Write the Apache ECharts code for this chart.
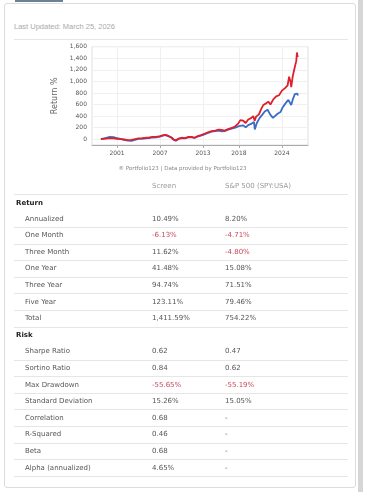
<!DOCTYPE html>
<html><head><meta charset="utf-8">
<script src="https://cdn.jsdelivr.net/npm/echarts@6/dist/echarts.min.js"></script>
<style>
html,body{margin:0;padding:0;background:#fff;width:365px;height:492px;overflow:hidden;font-family:"DejaVu Sans",Verdana,sans-serif;}
#wrap{position:relative;width:365px;height:492px;}
#chart{position:absolute;left:0;top:0;width:365px;height:180px;}
.t{position:absolute;white-space:nowrap;font-size:7px;line-height:16px;height:16px;color:#555;}
.hl{position:absolute;left:14px;width:334px;height:1px;background:#e6e6e6;}
</style></head>
<body><div id="wrap">
<div style="position:absolute;left:15px;top:0;width:48px;height:2px;background:#6d8193;"></div>
<div style="position:absolute;left:4px;top:3px;width:350px;height:483px;border:1px solid #dcdcdc;border-radius:3px;"></div>
<div style="position:absolute;left:358px;top:0;width:5px;height:492px;background:#d6d6d6;"></div>
<div style="position:absolute;left:14px;top:22px;font-family:'Liberation Sans',Arial,sans-serif;font-size:7.5px;color:#aaa;">Last Updated: March 25, 2026</div>
<div class="hl" style="top:39px;"></div>
<div id="chart"></div>
<div id="table"></div>
</div>
<script>
// ---- chart data ----
const screenYears = [1998.75,1999.0,1999.5,2000.0,2000.5,2001.0,2001.5,2002.0,2002.5,2003.0,2003.5,2004.0,2004.5,2005.0,2005.5,2006.0,2006.5,2007.0,2007.5,2007.8,2008.2,2008.6,2008.9,2009.2,2009.6,2010.0,2010.5,2011.0,2011.5,2011.8,2012.2,2012.7,2013.2,2013.7,2014.2,2014.7,2015.2,2015.6,2016.0,2016.5,2017.0,2017.5,2017.9,2018.2,2018.6,2018.95,2019.3,2019.7,2020.0,2020.2,2020.4,2020.8,2021.1,2021.4,2021.8,2022.1,2022.4,2022.8,2023.2,2023.6,2024.0,2024.4,2024.8,2025.0,2025.2,2025.3,2025.5,2025.8,2026.0,2026.1,2026.2,2026.23];
const screenValues = [0,5,10,20,15,5,0,-5,-15,-10,0,15,18,25,30,40,42,55,70,75,55,30,-5,-20,10,25,20,40,38,25,50,70,95,120,140,150,165,160,150,175,195,225,270,330,320,280,340,365,400,320,390,430,520,590,620,650,600,690,740,760,840,880,930,1080,1000,900,1080,1250,1350,1500,1420,1411.59];
const spyYears = [1998.75,1999.0,1999.5,2000.0,2000.5,2001.0,2001.5,2002.0,2002.5,2003.0,2003.5,2004.0,2004.5,2005.0,2005.5,2006.0,2006.5,2007.0,2007.5,2007.8,2008.2,2008.6,2008.9,2009.2,2009.6,2010.0,2010.5,2011.0,2011.5,2011.8,2012.2,2012.7,2013.2,2013.7,2014.2,2014.7,2015.2,2015.6,2016.0,2016.5,2017.0,2017.5,2018.0,2018.2,2018.6,2018.95,2019.3,2019.7,2020.1,2020.22,2020.5,2020.9,2021.3,2021.6,2022.0,2022.4,2022.75,2023.0,2023.4,2023.8,2024.1,2024.5,2024.9,2025.1,2025.3,2025.5,2025.8,2026.0,2026.15,2026.23];
const spyValues = [0,10,25,40,35,20,5,-10,-25,-30,-10,5,8,15,20,30,32,45,65,72,50,25,-10,-25,5,20,15,35,33,20,45,60,85,110,130,140,150,135,140,165,185,200,225,215,240,205,245,265,300,170,280,370,430,480,510,420,370,400,440,470,550,620,680,700,590,680,780,810,790,754.22];
const xTickYears = [2001,2007,2013,2018,2024];
const yTicks = [0,200,400,600,800,1000,1200,1400,1600];

// ---- table data ----
const colHeaders = ['Screen','S&P 500 (SPY:USA)'];
const returnLabels = ['Annualized','One Month','Three Month','One Year','Three Year','Five Year','Total'];
const returnScreen = ['10.49%','-6.13%','11.62%','41.48%','94.74%','123.11%','1,411.59%'];
const returnSpy = ['8.20%','-4.71%','-4.80%','15.08%','71.51%','79.46%','754.22%'];
const riskLabels = ['Sharpe Ratio','Sortino Ratio','Max Drawdown','Standard Deviation','Correlation','R-Squared','Beta','Alpha (annualized)'];
const riskScreen = ['0.62','0.84','-55.65%','15.26%','0.68','0.46','0.68','4.65%'];
const riskSpy = ['0.47','0.62','-55.19%','15.05%','-','-','-','-'];

const chart = echarts.init(document.getElementById('chart'), null, {renderer:'canvas'});
const F = '"DejaVu Sans", Verdana, sans-serif';
chart.setOption({
  animation:false,
  grid:{left:92, top:46.7, width:216, height:98.3, show:true, borderColor:'#dedede', borderWidth:1},
  title:{text:'® Portfolio123 | Data provided by Portfolio123', left:'center', top:161,
    textStyle:{fontFamily:F, fontSize:5.5, fontWeight:'normal', color:'#888'}},
  xAxis:{type:'value', min:1997.51, max:2027.64,
    axisLine:{show:true, onZero:false, lineStyle:{color:'#aaa', width:1}},
    axisTick:{show:true, length:3, lineStyle:{color:'#aaa'}, customValues:xTickYears},
    axisLabel:{customValues:xTickYears, formatter:v=>String(Math.round(v)), fontFamily:F, fontSize:6, color:'#555', margin:5},
    splitLine:{show:true, lineStyle:{color:'#f0f0f0', width:1}}},
  yAxis:{type:'value', min:-100, max:1600,
    name:'Return %', nameLocation:'middle', nameRotate:90, nameGap:32,
    nameTextStyle:{fontFamily:F, fontSize:8, color:'#666'},
    axisLine:{show:false}, axisTick:{show:false, customValues:yTicks},
    axisLabel:{customValues:yTicks, formatter:v=>v.toLocaleString('en-US'), fontFamily:F, fontSize:6, color:'#555', margin:5},
    splitLine:{show:true, lineStyle:{color:'#f0f0f0', width:1}}},
  series:[
    {name:'S&P 500', type:'line', showSymbol:false, data:spyYears.map((x,i)=>[x,spyValues[i]]),
     lineStyle:{color:'#3b6cc6', width:1.8}, itemStyle:{color:'#3b6cc6'}, z:2},
    {name:'Screen', type:'line', showSymbol:false, data:screenYears.map((x,i)=>[x,screenValues[i]]),
     lineStyle:{color:'#e01f2a', width:1.8}, itemStyle:{color:'#e01f2a'}, z:3}
  ]
});

// ---- table ----
const tbl = document.getElementById('table');
function txt(x, cy, s, style){
  const d=document.createElement('div'); d.className='t'; d.textContent=s;
  d.style.left=x+'px'; d.style.top=(cy-8)+'px';
  if(style) Object.assign(d.style, style);
  tbl.appendChild(d);
}
function line(y){ const d=document.createElement('div'); d.className='hl'; d.style.top=y+'px'; tbl.appendChild(d); }
const red = v => v.trim().startsWith('-') && v.trim().length>1;
txt(152,186,colHeaders[0],{color:'#999'});
txt(225,186,colHeaders[1],{color:'#999'});
line(194);
txt(16,203,'Return',{color:'#222',fontWeight:'bold'});
returnLabels.forEach((l,i)=>{
  const cy=218.6+i*16.6;
  txt(25,cy,l); txt(152,cy,returnScreen[i],{color:red(returnScreen[i])?'#c94a5e':'#555'});
  txt(225,cy,returnSpy[i],{color:red(returnSpy[i])?'#c94a5e':'#555'});
  line(Math.round(cy+8.3));
});
txt(16,335,'Risk',{color:'#222',fontWeight:'bold'});
riskLabels.forEach((l,i)=>{
  const cy=351.2+i*16.65;
  txt(25,cy,l); txt(152,cy,riskScreen[i],{color:red(riskScreen[i])?'#c94a5e':'#555'});
  txt(225,cy,riskSpy[i],{color:red(riskSpy[i])?'#c94a5e':'#555'});
  line(Math.round(cy+8.3));
});
</script>
</body></html>
